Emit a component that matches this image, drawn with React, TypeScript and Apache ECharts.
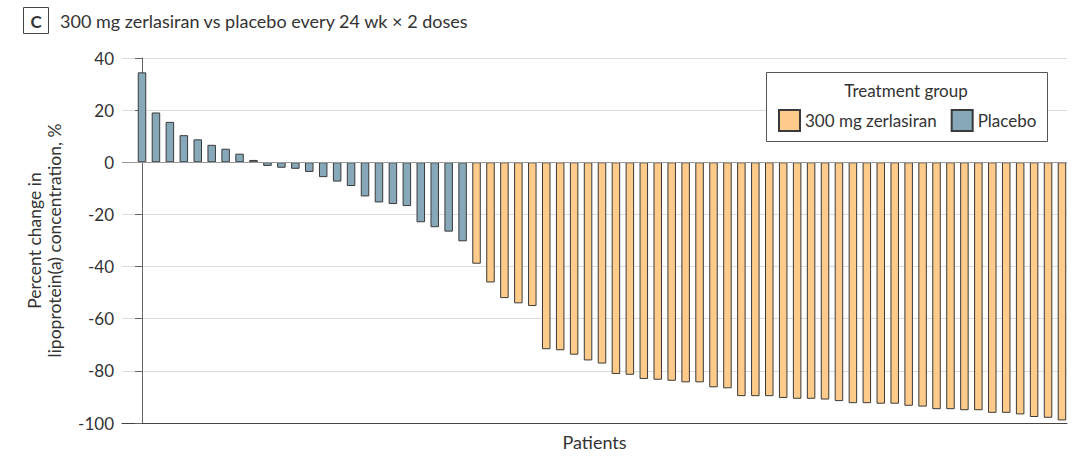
import React, { useEffect, useRef } from "react";
import * as echarts from "echarts";

const titleText = "300 mg zerlasiran vs placebo every 24 wk × 2 doses";
const panelLabel = "C";
const legendTitle = "Treatment group";
const seriesNames = ["300 mg zerlasiran", "Placebo"];
const yAxisName = "Percent change in\nlipoprotein(a) concentration, %";
const xAxisName = "Patients";
const yMin = -100;
const yMax = 40;
const yInterval = 20;

const placeboValues = [
  34.5, 19.1, 15.5, 10.4, 8.8, 6.7, 5.2, 3.3, 0.9, -1.4, -2.1, -2.5, -3.7, -5.7,
  -7.4, -9.1, -13.1, -15.4, -16.0, -16.8, -23.0, -24.9, -26.6, -30.3,
];
const zerlasiranValues = [
  -38.9, -46.1, -52.1, -54.1, -55.1, -71.7, -72.1, -73.8, -76.0, -77.2, -81.2,
  -81.5, -83.1, -83.4, -83.8, -84.4, -84.4, -86.3, -86.7, -89.7, -89.7, -89.7,
  -90.4, -90.7, -90.7, -91.0, -91.6, -92.4, -92.4, -92.6, -92.6, -93.4, -93.7,
  -94.7, -94.7, -95.1, -95.1, -96.1, -96.1, -96.7, -97.7, -98.0, -99.0,
];

const FONT = "Lato";
const ORANGE = "#FECB8B";
const BLUE = "#86A8B8";
const BORDER = "#3a3a3a";

export default function App() {
  const ref = useRef<HTMLDivElement>(null);
  useEffect(() => {
    if (!ref.current) return;
    const chart = echarts.init(ref.current, undefined, { renderer: "svg" });
    const placeboData = placeboValues.map((v, i) => [i, v]);
    const zerData = zerlasiranValues.map((v, i) => [placeboValues.length + i, v]);
    const total = placeboValues.length + zerlasiranValues.length;
    const barStyle = (color: string) => ({
      color,
      borderColor: BORDER,
      borderWidth: 1,
    });
    chart.setOption({
      animation: false,
      textStyle: { fontFamily: FONT },
      grid: { left: 122, right: 13, top: 58, bottom: 30 },
      xAxis: {
        type: "value",
        min: -1.435,
        max: total - 0.64,
        axisLine: { show: true, onZero: false, lineStyle: { color: "#444", width: 1 } },
        axisTick: { show: false },
        axisLabel: { show: false },
        splitLine: { show: false },
        name: xAxisName,
        nameLocation: "middle",
        nameGap: 10,
        nameTextStyle: { fontSize: 18, color: "#333", fontFamily: FONT },
      },
      yAxis: {
        type: "value",
        min: yMin,
        max: yMax,
        interval: yInterval,
        axisLine: { show: true, lineStyle: { color: "#666", width: 1 } },
        axisTick: { show: true, length: 7, lineStyle: { color: "#666" } },
        axisLabel: { fontSize: 17, color: "#333", fontFamily: FONT, margin: 8 },
        splitLine: { show: true, lineStyle: { color: "#dcdcdc", width: 1 } },
        name: yAxisName,
        nameLocation: "middle",
        nameGap: 58,
        nameTextStyle: { fontSize: 17.5, lineHeight: 20, color: "#333", fontFamily: FONT, align: "center" },
      },
      legend: {
        data: seriesNames,
        left: 773,
        top: 104,
        itemWidth: 21,
        itemHeight: 21,
        itemGap: 14,
        icon: "rect",
        z: 10,
        textStyle: { fontSize: 17, color: "#333", fontFamily: FONT },
      },
      graphic: [
        {
          type: "rect",
          shape: { x: 766.5, y: 72.5, width: 281, height: 69 },
          style: { fill: "#fff", stroke: "#555", lineWidth: 1 },
          z: 5,
        },
        {
          type: "text",
          x: 906,
          y: 90,
          style: {
            text: legendTitle,
            fontSize: 17,
            fontFamily: FONT,
            fill: "#333",
            align: "center",
            verticalAlign: "middle",
          },
          z: 6,
        },
        {
          type: "rect",
          shape: { x: 23.5, y: 7.5, width: 25, height: 26 },
          style: { fill: "#fff", stroke: "#444", lineWidth: 1 },
          z: 5,
        },
        {
          type: "text",
          x: 36,
          y: 21,
          style: {
            text: panelLabel,
            fontSize: 17,
            fontWeight: "bold",
            fontFamily: FONT,
            fill: "#333",
            align: "center",
            verticalAlign: "middle",
          },
          z: 6,
        },
        {
          type: "text",
          x: 60,
          y: 21,
          style: {
            text: titleText,
            fontSize: 18,
            fontFamily: FONT,
            fill: "#333",
            align: "left",
            verticalAlign: "middle",
          },
          z: 6,
        },
      ],
      series: [
        {
          name: seriesNames[1],
          type: "bar",
          data: placeboData,
          barWidth: 8.5,
          barGap: "-100%",
          itemStyle: barStyle(BLUE),
          markLine: {
            silent: true,
            symbol: "none",
            label: { show: false },
            lineStyle: { color: "#999", type: "solid", width: 1 },
            data: [{ yAxis: 0 }],
          },
        },
        {
          name: seriesNames[0],
          type: "bar",
          data: zerData,
          barWidth: 8.5,
          barGap: "-100%",
          itemStyle: barStyle(ORANGE),
        },
      ],
    });
    return () => chart.dispose();
  }, []);
  return (
    <div
      ref={ref}
      style={{ position: "fixed", left: 0, top: 0, width: 1080, height: 456, background: "#fff" }}
    />
  );
}
